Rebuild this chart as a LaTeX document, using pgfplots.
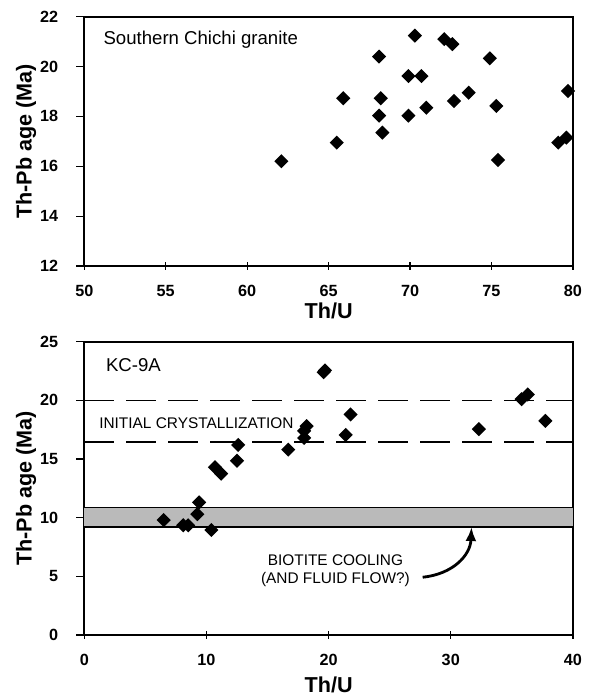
\documentclass[border=0pt]{standalone}
\usepackage{fontspec}
\setmainfont{Liberation Sans}
\usepackage{pgfplots}
\pgfplotsset{compat=1.18}
\usetikzlibrary{arrows.meta}

\pgfplotsset{
  agestyle/.style={
    scale only axis, width=244.3pt,
    axis line style={line width=0.9pt},
    xtick pos=bottom, ytick pos=left,
    xtick align=center, ytick align=outside,
    major tick length=4pt,
    tick style={line width=0.6pt, black},
    /pgf/number format/assume math mode=true,
    ticklabel style={font=\bfseries\fontsize{8.1}{9}\selectfont},
    xticklabel style={yshift=-4pt},
    yticklabel style={xshift=-5.5pt},
    label style={font=\bfseries\fontsize{10.8}{12}\selectfont},
    every axis plot/.append style={line width=0.8pt},
  },
  pts/.style={only marks, mark=square*, mark size=2.1pt,
    mark options={rotate=45, fill=black, draw=black}},
}

\begin{document}
\begin{tikzpicture}
\path[use as bounding box] (0,0) rectangle (295pt,347.5pt);

% top panel
\begin{axis}[agestyle, at={(42.15pt,214.5pt)}, anchor=south west,
  height=124.65pt,
  xmin=50, xmax=80, ymin=12, ymax=22,
  xtick={50,55,...,80}, ytick={12,14,...,22},
  xlabel={Th/U}, ylabel={Th-Pb age (Ma)},
  xlabel style={at={(axis description cs:0.5,-0.182)}, anchor=center},
  ylabel style={at={(axis description cs:-0.119,0.5)}, anchor=center},
  clip=false]
\addplot[pts] coordinates {
  (62.1,16.2) (65.5,16.95) (65.9,18.73) (68.1,20.4) (68.1,18.03)
  (68.2,18.73) (68.3,17.35) (69.9,19.62) (69.9,18.03) (70.3,21.24)
  (70.7,19.62) (71.0,18.35) (72.1,21.1) (72.6,20.9) (72.7,18.62)
  (73.6,18.95) (74.9,20.33) (75.3,18.42) (75.4,16.25) (79.1,16.95)
  (79.6,17.15) (79.7,19.02)
};
\node[anchor=west, font=\fontsize{9.3}{11}\selectfont]
  at (axis cs:50.75,21.07) {Southern Chichi granite};
\end{axis}

% bottom panel
\begin{axis}[agestyle, at={(42.15pt,30pt)}, anchor=south west,
  height=146.65pt,
  xmin=0, xmax=40, ymin=0, ymax=25,
  xtick={0,10,...,40}, ytick={0,5,...,25},
  xlabel={Th/U}, ylabel={Th-Pb age (Ma)},
  xlabel style={at={(axis description cs:0.5,-0.17)}, anchor=center},
  ylabel style={at={(axis description cs:-0.119,0.5)}, anchor=center},
  clip=false]
% biotite cooling band
\addplot[draw=none, fill=black!27] coordinates {(0,9.2) (40,9.2) (40,10.9) (0,10.9)} -- cycle;
\addplot[black, line width=0.6pt] coordinates {(0,9.2) (40,9.2)};
\addplot[black, line width=0.6pt] coordinates {(0,10.9) (40,10.9)};
% initial crystallization limits
\addplot[black, line width=0.8pt, dash pattern=on 15pt off 6pt] coordinates {(0,20) (40,20)};
\addplot[black, line width=0.8pt, dash pattern=on 15pt off 6pt] coordinates {(0,16.45) (40,16.45)};
\addplot[pts] coordinates {
  (6.5,9.8) (8.1,9.35) (8.5,9.35) (9.25,10.3) (9.4,11.3) (10.4,8.95)
  (10.7,14.3) (11.2,13.75) (12.5,14.85) (12.6,16.2) (16.7,15.8)
  (18.0,16.8) (18.0,17.4) (18.2,17.8) (19.6,22.4) (19.7,22.55)
  (21.4,17.05) (21.8,18.8) (32.3,17.55) (35.8,20.1) (36.3,20.5)
  (37.75,18.25)
};
\node[anchor=west, font=\fontsize{9.3}{11}\selectfont]
  at (axis cs:1.2,23.0) {KC-9A};
\node[anchor=west, font=\fontsize{7.7}{9}\selectfont]
  at (axis cs:0.65,18.05) {INITIAL CRYSTALLIZATION};
\node[align=center, font=\fontsize{7.7}{9.2}\selectfont]
  at (axis cs:20.56,5.46) {BIOTITE COOLING\\(AND FLUID FLOW?)};
\draw[line width=1.4pt, -{Latex[length=7pt,width=5.5pt]}]
  (axis cs:27.7,4.92) .. controls (axis cs:30.2,5.2) and (axis cs:31.6,6.8)
  .. (axis cs:31.7,9.2);
\end{axis}
\end{tikzpicture}
\end{document}
